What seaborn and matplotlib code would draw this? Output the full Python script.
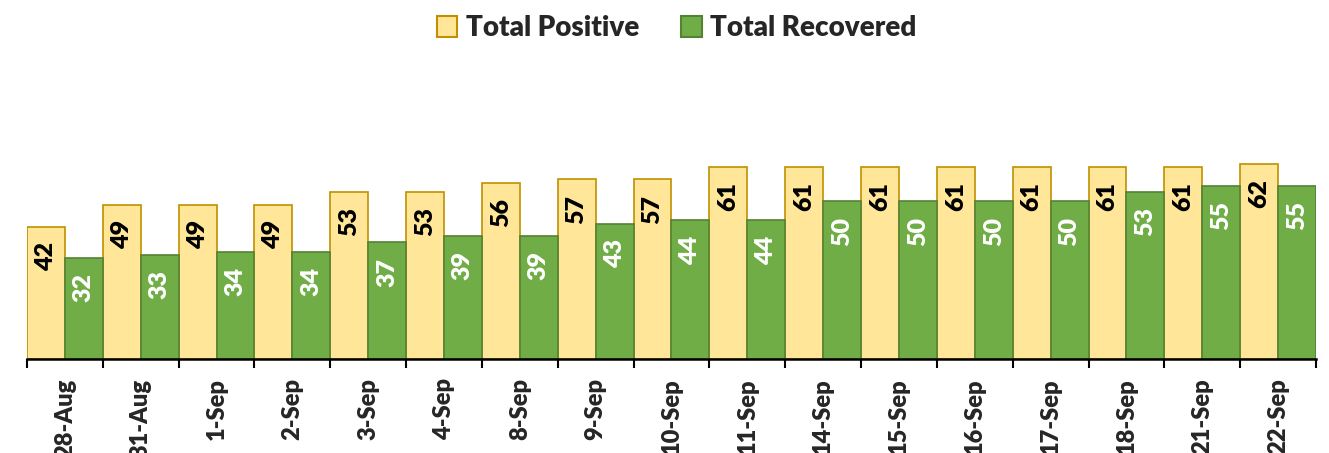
import matplotlib
matplotlib.use("Agg")
from matplotlib import pyplot as plt
import pandas as pd
import seaborn as sns

dates = ["28-Aug", "31-Aug", "1-Sep", "2-Sep", "3-Sep", "4-Sep", "8-Sep", "9-Sep", "10-Sep",
         "11-Sep", "14-Sep", "15-Sep", "16-Sep", "17-Sep", "18-Sep", "21-Sep", "22-Sep"]
total_positive = [42, 49, 49, 49, 53, 53, 56, 57, 57, 61, 61, 61, 61, 61, 61, 61, 62]
total_recovered = [32, 33, 34, 34, 37, 39, 39, 43, 44, 44, 50, 50, 50, 50, 53, 55, 55]

df = pd.DataFrame({
    "Date": dates * 2,
    "Count": total_positive + total_recovered,
    "Series": ["Total Positive"] * len(dates) + ["Total Recovered"] * len(dates),
})

sns.set_style("white")
plt.rcParams["font.family"] = ["Lato", "DejaVu Sans"]
plt.rcParams["font.weight"] = "heavy"
W = "heavy"

fills = {"Total Positive": "#FFE699", "Total Recovered": "#70AD47"}
edges = {"Total Positive": "#BF9000", "Total Recovered": "#548235"}
text_col = {"Total Positive": "black", "Total Recovered": "white"}

fig = plt.figure(figsize=(13.29, 4.53), dpi=100)
ax = fig.add_axes([0.0203, 0.2075, 0.9699, 0.6955])
sns.barplot(data=df, x="Date", y="Count", hue="Series", palette=fills, saturation=1,
            width=1.0, errorbar=None, ax=ax, legend=False)

series = ["Total Positive", "Total Recovered"]
for name, cont in zip(series, ax.containers):
    for bar in cont:
        bar.set_edgecolor(edges[name])
        bar.set_linewidth(1.2)
        ax.annotate(f"{int(bar.get_height())}",
                    (bar.get_x() + bar.get_width() / 2, bar.get_height()),
                    xytext=(0, -11), textcoords="offset points",
                    ha="center", va="top", rotation=90,
                    fontsize=18, fontweight=W, color=text_col[name])

ax.set_ylim(0, 100)
ax.set_xlim(-0.5, len(dates) - 0.5)
ax.set_xlabel("")
ax.set_ylabel("")
ax.set_yticks([])
for s in ["top", "right", "left"]:
    ax.spines[s].set_visible(False)
ax.spines["bottom"].set_color("black")
ax.spines["bottom"].set_linewidth(1.8)

ax.set_xticks(range(len(dates)))
ax.set_xticklabels(dates, rotation=90, fontsize=17, fontweight=W)
ax.tick_params(axis="x", which="major", length=0, pad=14)
ax.set_xticks([i - 0.5 for i in range(len(dates) + 1)], minor=True)
ax.tick_params(axis="x", which="minor", length=6.5, width=1.5, color="black", bottom=True)

handles = [plt.Rectangle((0, 0), 1, 1, facecolor=fills[n], edgecolor=edges[n], linewidth=1.5)
           for n in series]
fig.legend(handles, series, loc="center", bbox_to_anchor=(0.509, 0.938), ncol=2,
           frameon=False, prop={"size": 20, "weight": W},
           handlelength=0.75, handleheight=0.75, handletextpad=0.3, columnspacing=1.5)

fig.savefig("out.png", dpi=100)
